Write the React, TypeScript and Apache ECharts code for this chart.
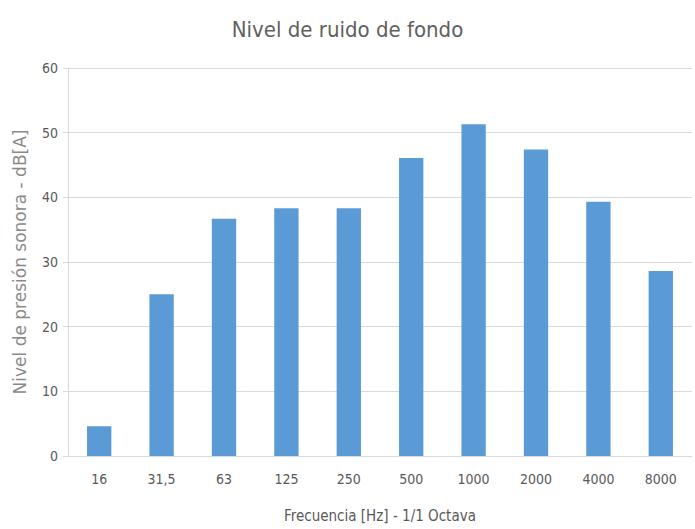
import React, { useEffect, useRef } from "react";
import * as echarts from "echarts";

// Octave-band centre frequencies and measured background levels
const bandLabels = ["16", "31,5", "63", "125", "250", "500", "1000", "2000", "4000", "8000"];
const levels = [4.6, 25.0, 36.7, 38.3, 38.3, 46.1, 51.3, 47.4, 39.3, 28.6];

const yMin = 0;
const yMax = 60;
const yStep = 10;

const narrowFont = "'Liberation Sans Narrow', 'DejaVu Sans Condensed', 'Open Sans', sans-serif";

export default function App() {
  const ref = useRef<HTMLDivElement>(null);

  useEffect(() => {
    if (!ref.current) return;
    const chart = echarts.init(ref.current, undefined, { renderer: "svg" });
    chart.setOption({
      animation: false,
      backgroundColor: "#ffffff",
      title: {
        text: "Nivel de ruido de fondo",
        left: "center",
        top: 13,
        textStyle: {
          fontFamily: narrowFont,
          fontWeight: "normal",
          fontSize: 22,
          color: "#606060",
        },
      },
      grid: { left: 68, right: 3, top: 68, bottom: 73 },
      xAxis: {
        type: "category",
        data: bandLabels,
        name: "Frecuencia [Hz] - 1/1 Octava",
        nameLocation: "middle",
        nameGap: 52,
        nameTextStyle: { fontFamily: narrowFont, fontSize: 15, color: "#595959" },
        axisLine: { show: true, lineStyle: { color: "#d9d9d9" } },
        axisTick: { show: false },
        axisLabel: { fontFamily: narrowFont, fontSize: 14, color: "#595959", margin: 16 },
      },
      yAxis: {
        type: "value",
        min: yMin,
        max: yMax,
        interval: yStep,
        name: "Nivel de presión sonora - dB[A]",
        nameLocation: "middle",
        nameGap: 40,
        nameTextStyle: { fontFamily: "'DejaVu Sans', Verdana, sans-serif", fontSize: 17, color: "#8a8a8a" },
        axisLine: { show: true, lineStyle: { color: "#d9d9d9" } },
        axisTick: { show: true, inside: false, length: 5, lineStyle: { color: "#d9d9d9" } },
        splitLine: { show: true, lineStyle: { color: "#d9d9d9" } },
        axisLabel: { fontFamily: narrowFont, fontSize: 14, color: "#595959", margin: 10 },
      },
      series: [
        {
          type: "bar",
          data: levels,
          barCategoryGap: "61%",
          itemStyle: { color: "#5b9bd5" },
        },
      ],
    });
    return () => chart.dispose();
  }, []);

  return <div ref={ref} style={{ width: 695, height: 529, position: "absolute", left: 0, top: 0 }} />;
}
